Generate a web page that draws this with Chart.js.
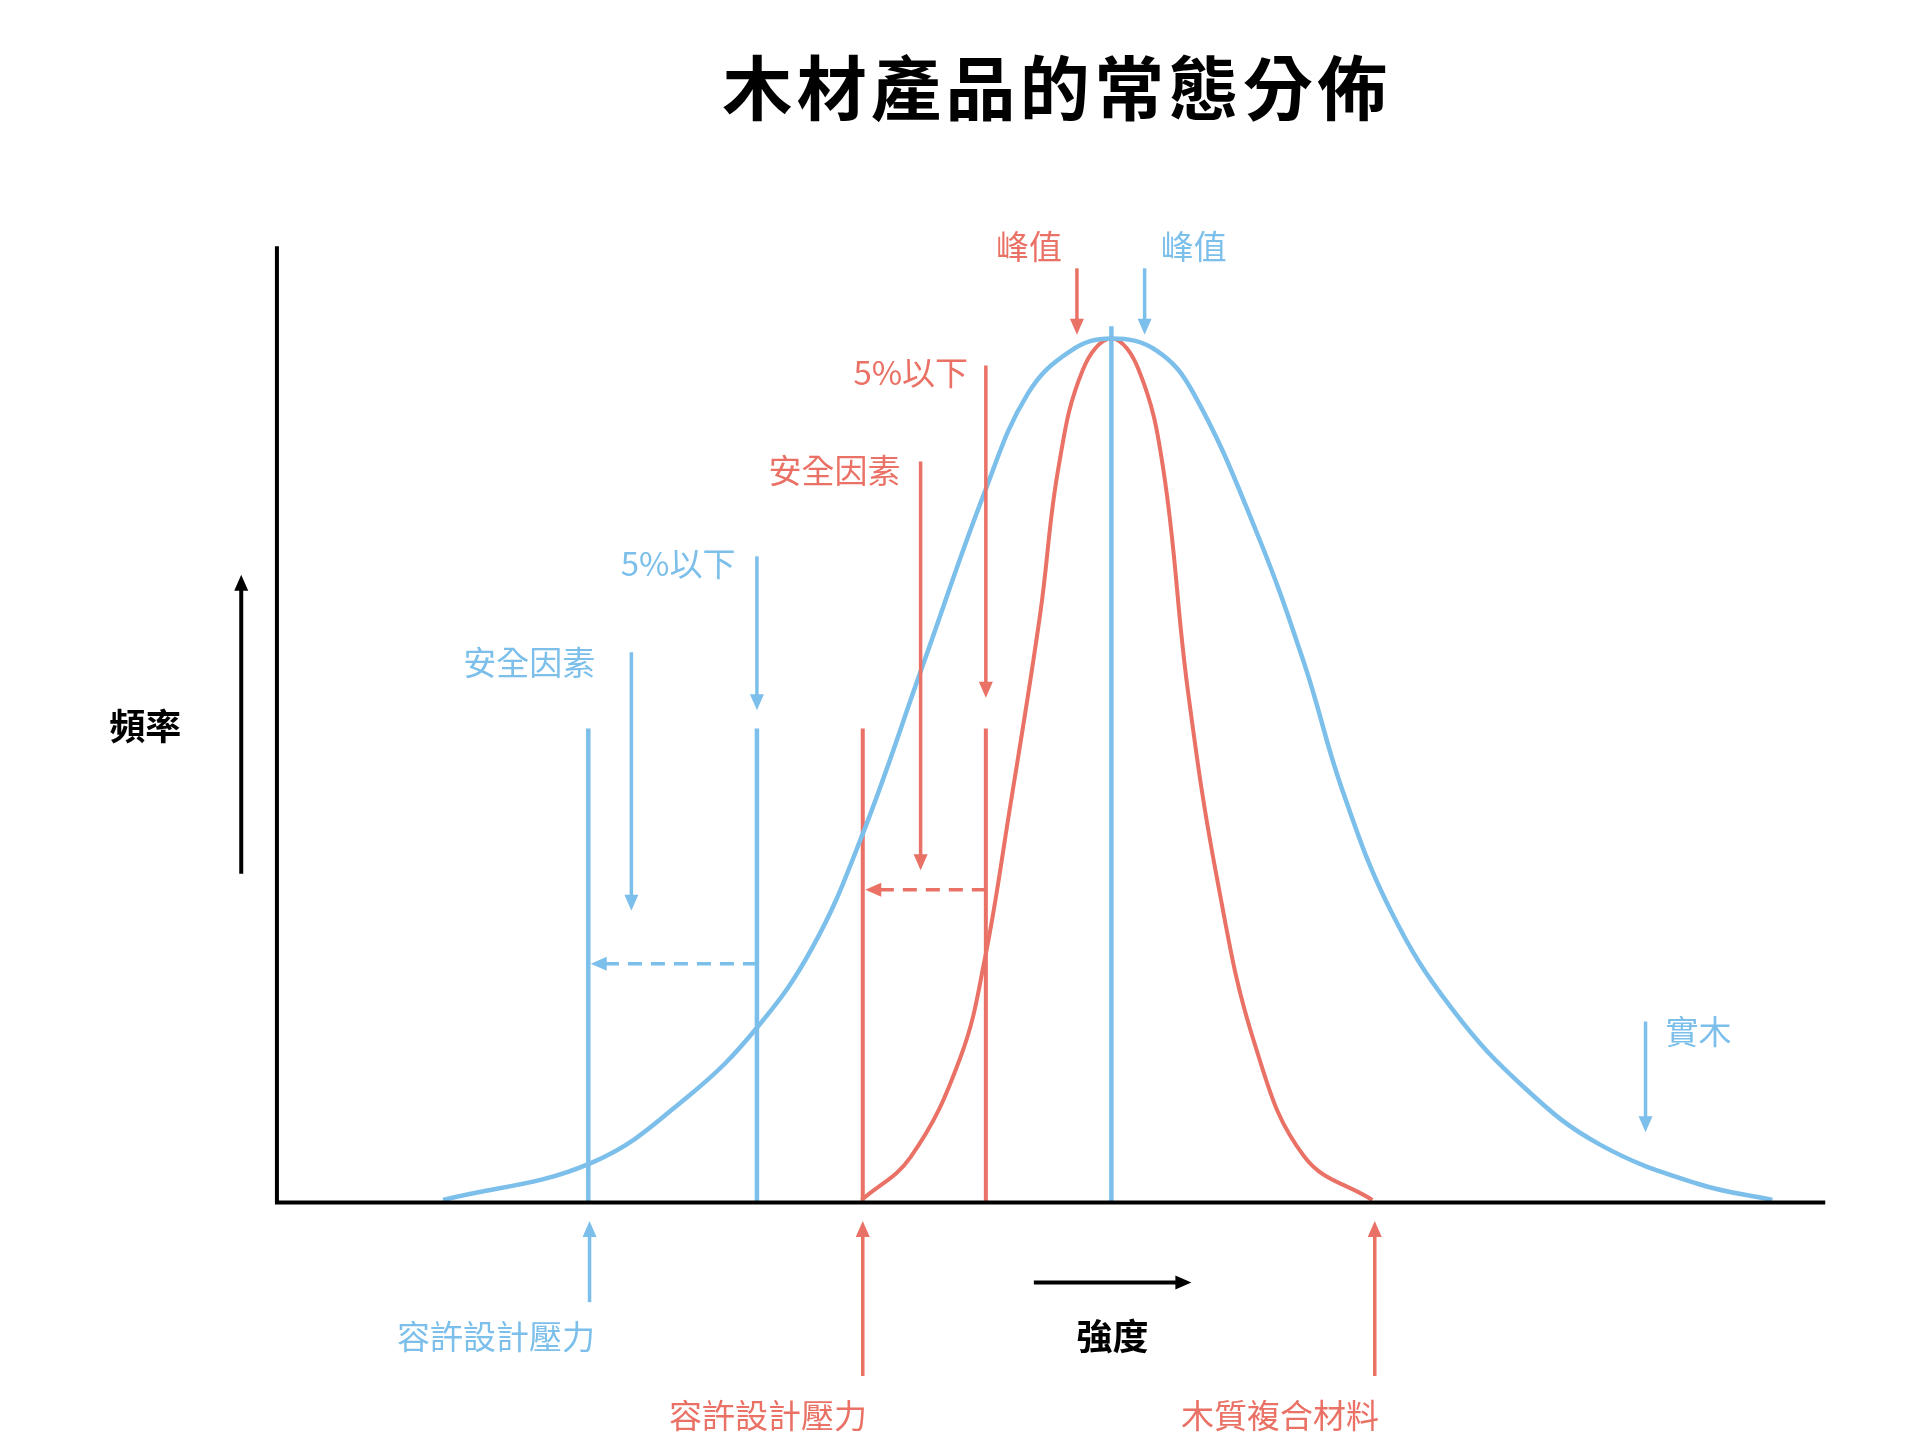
<!DOCTYPE html>
<html><head><meta charset="utf-8">
<script src="https://cdn.jsdelivr.net/npm/chart.js@4"></script>
<style>html,body{margin:0;background:#fff}#w{width:1920px;height:1440px}</style>
</head><body><div id="w"><canvas id="c"></canvas></div>
<script>
// values read in reference units (x: horizontal position, y: frequency height)
const blueX=[360,480,560,615,660,700,750,800,835,870,903,940,970,1020,1060,1090,1130,1180,1240,1300,1380,1440];
const blueY=[2,32,87,142,207,297,437,577,657,692,702,692,657,547,437,337,237,157,92,47,15,2];
const redX=[700,740,780,800,820,845,860,880,903,925,945,965,990,1020,1060,1115];
const redY=[2,37,117,197,317,477,597,677,702,677,597,417,257,127,37,2];
// vertical markers [x, top]
const blueMarks=[[478,385],[615,385],[903,712]];
const redMarks=[[701,385],[801,385]];
const title="木材產品的常態分佈";
const BLUE="#7bbfea",RED="#ea7165";
// arrows [x1,y1,x2,y2,color,dashed] (head at x2,y2)
const arrows=[
 [930,759,930,705,BLUE,0],[615,525,615,400,BLUE,0],[513,447,513,237,BLUE,0],[1337,147,1337,57,BLUE,0],
 [479,-81,479,-15,BLUE,0],[615,194,480,194,BLUE,1],
 [875,759,875,705,RED,0],[801,680,801,410,RED,0],[748,602,748,270,RED,0],[801,254,703,254,RED,1],
 [701,-141,701,-15,RED,0],[1117,-141,1117,-15,RED,0],
 [196,267,196,510,"#000",0],[840,-65,968,-65,"#000",0]];
// labels [text,x,y,color]
const labels=[
 ["峰值",836,777,RED],["峰值",970,777,BLUE],["5%以下",740,674,RED],["安全因素",678,595,RED],
 ["5%以下",551,519,BLUE],["安全因素",430,439,BLUE],["實木",1380,139,BLUE],["頻率",118,387,"#000"],
 ["強度",904,-109,"#000"],["容許設計壓力",403,-109,BLUE],["容許設計壓力",624,-173,RED],["木質複合材料",1040,-173,RED]];
const K=1920/1560;
const ds=[
 {data:blueX.map((x,i)=>({x,y:blueY[i]})),borderColor:BLUE,borderWidth:4.5,tension:0.4},
 {data:redX.map((x,i)=>({x,y:redY[i]})),borderColor:RED,borderWidth:4,tension:0.4}];
blueMarks.forEach(m=>ds.push({data:[{x:m[0],y:0},{x:m[0],y:m[1]}],borderColor:BLUE,borderWidth:4.5}));
redMarks.forEach(m=>ds.push({data:[{x:m[0],y:0},{x:m[0],y:m[1]}],borderColor:RED,borderWidth:4}));
const deco={id:'deco',afterDraw(ch){
 const c=ch.ctx,xs=ch.scales.x,ys=ch.scales.y,X=v=>xs.getPixelForValue(v),Y=v=>ys.getPixelForValue(v);
 c.save();
 c.strokeStyle="#000";c.lineWidth=4;c.beginPath();
 c.moveTo(X(225),Y(777));c.lineTo(X(225),Y(0));c.lineTo(X(1483),Y(0));c.stroke();
 arrows.forEach(a=>{
  const x1=X(a[0]),y1=Y(a[1]),x2=X(a[2]),y2=Y(a[3]);
  const ang=Math.atan2(y2-y1,x2-x1),h=16;
  c.strokeStyle=a[4];c.fillStyle=a[4];c.lineWidth=a[4]=="#000"?4:3.5;
  c.setLineDash(a[5]?[14,9]:[]);
  c.beginPath();c.moveTo(x1,y1);c.lineTo(x2-Math.cos(ang)*h*0.8,y2-Math.sin(ang)*h*0.8);c.stroke();
  c.setLineDash([]);
  c.beginPath();c.moveTo(x2,y2);
  c.lineTo(x2-h*Math.cos(ang)+7*Math.sin(ang),y2-h*Math.sin(ang)-7*Math.cos(ang));
  c.lineTo(x2-h*Math.cos(ang)-7*Math.sin(ang),y2-h*Math.sin(ang)+7*Math.cos(ang));
  c.closePath();c.fill();});
 c.textAlign="center";c.textBaseline="middle";
 labels.forEach(l=>{c.fillStyle=l[3];c.font=(l[3]=="#000"?"bold 36px":"33px")+' "Noto Sans CJK TC"';c.fillText(l[0],X(l[1]),Y(l[2]));});
 c.fillStyle="#000";c.font='bold 70px "Noto Sans CJK TC"';
 c.fillText(title.split("").join("\u200A"),X(857),Y(905));
 c.restore();}};
new Chart(document.getElementById('c'),{type:'line',data:{datasets:ds},plugins:[deco],
 options:{responsive:true,maintainAspectRatio:false,animation:false,
  layout:{padding:{left:225*K,top:200*K,right:1920-1483*K,bottom:1440-977*K}},
  elements:{point:{radius:0}},plugins:{legend:{display:false},tooltip:{enabled:false}},
  scales:{x:{type:'linear',min:225,max:1483,display:false},y:{min:0,max:777,display:false}}}});
</script></body></html>
